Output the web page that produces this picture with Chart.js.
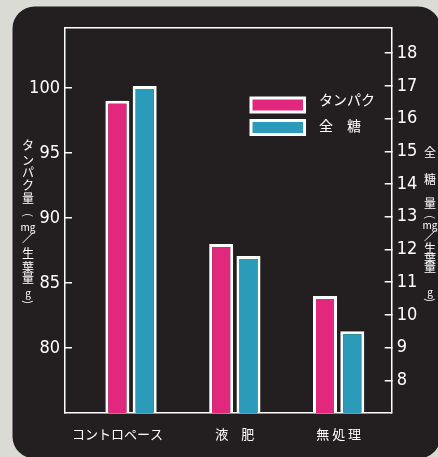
<!DOCTYPE html>
<html><head><meta charset="utf-8">
<script src="https://cdn.jsdelivr.net/npm/chart.js@4/dist/chart.umd.min.js"></script>
<style>html,body{margin:0;padding:0;background:#d9dbd4;overflow:hidden}canvas{display:block}</style>
</head><body>
<canvas id="c" width="438" height="457"></canvas>
<script>
const categories = ['コントロペース', '液　肥', '無 処 理'];
const seriesNames = ['タンパク', '全　糖'];
const tanpaku = [99, 88, 84];
const zentou = [17.0, 11.8, 9.5];
const leftTicks = [80, 85, 90, 95, 100];
const rightTicks = [8, 9, 10, 11, 12, 13, 14, 15, 16, 17, 18];
const leftTitle = ['タ','ン','パ','ク','量','(','mg','／','生','葉','量','g',')'];
const rightTitle = ['全','糖','量','(','mg','／','生','葉','量','g',')'];

const PINK = '#e1287d';
const TEAL = '#2b9bb9';
const WHITE = '#ffffff';
const PANEL = '#231f20';
const NUM_FONT = "'DejaVu Sans Condensed', 'Liberation Sans Narrow', sans-serif";
const JP_FONT = "'Noto Sans CJK JP', sans-serif";

const labelNudge = [-0.13, 0, 0];
const leftTitleY = [145,160,172,185,198,215,227,238,253,267,278,293,302];
const rightTitleY = [152,179,203,217,225,236,248,258,267,292,300];

function drawVertical(ctx, chars, ys, x) {
  chars.forEach((ch, i) => {
    ctx.save();
    ctx.translate(x, ys[i]);
    if (ch === '(' || ch === ')') {
      ctx.rotate(Math.PI / 2);
      ctx.font = '11px ' + JP_FONT;
    } else if (/^[a-z]+$/.test(ch)) {
      ctx.font = '10px ' + JP_FONT;
    } else {
      ctx.font = '12px ' + JP_FONT;
    }
    ctx.fillText(ch, 0, 0);
    ctx.restore();
  });
}

const decor = {
  id: 'decor',
  beforeDraw(chart) {
    const ctx = chart.ctx;
    ctx.save();
    ctx.fillStyle = PANEL;
    ctx.beginPath();
    ctx.roundRect(12.5, 6.5, 428, 452, 22);
    ctx.fill();
    ctx.restore();
  },
  afterDraw(chart) {
    const ctx = chart.ctx;
    ctx.save();
    ctx.fillStyle = WHITE;
    ctx.textAlign = 'center';
    ctx.textBaseline = 'middle';
    drawVertical(ctx, leftTitle, leftTitleY, 28);
    drawVertical(ctx, rightTitle, rightTitleY, 430);
    // legend
    const colors = [PINK, TEAL];
    const boxY = [96.5, 119];
    const textY = [99.5, 126];
    colors.forEach((col, i) => {
      ctx.fillStyle = WHITE;
      ctx.fillRect(249.5, boxY[i], 56.5, 17);
      ctx.fillStyle = col;
      ctx.fillRect(252.5, boxY[i] + 3, 50.5, 11);
      ctx.fillStyle = WHITE;
      ctx.font = '14px ' + JP_FONT;
      ctx.textAlign = 'left';
      ctx.fillText(seriesNames[i], 319, textY[i]);
    });
    ctx.restore();
  }
};

new Chart(document.getElementById('c'), {
  type: 'bar',
  data: {
    datasets: [
      {
        label: seriesNames[0],
        data: tanpaku.map((v, i) => ({ x: i, y: v })),
        yAxisID: 'y',
        backgroundColor: PINK,
        borderColor: WHITE,
        borderWidth: 3,
        categoryPercentage: 0.526,
        barPercentage: 0.88
      },
      {
        label: seriesNames[1],
        data: zentou.map((v, i) => ({ x: i, y: v })),
        yAxisID: 'y2',
        backgroundColor: TEAL,
        borderColor: WHITE,
        borderWidth: 3,
        categoryPercentage: 0.526,
        barPercentage: 0.88
      }
    ]
  },
  options: {
    responsive: false,
    animation: false,
    layout: { padding: { left: 0, right: 0, top: 28, bottom: 0 } },
    plugins: { legend: { display: false }, tooltip: { enabled: false } },
    scales: {
      x: {
        type: 'linear',
        position: 'bottom',
        offset: false,
        min: -0.636,
        max: 2.511,
        afterBuildTicks: s => { s.ticks = categories.map((c, i) => ({ value: i + labelNudge[i] })); },
        afterFit: s => { s.height = 44; },
        ticks: {
          color: WHITE,
          font: { family: JP_FONT, size: 13 },
          padding: 13,
          maxRotation: 0,
          autoSkip: false,
          callback: (v, idx) => categories[idx]
        },
        grid: { display: false, drawTicks: false, offset: false },
        border: { display: true, color: WHITE, width: 1.5 }
      },
      x2: {
        type: 'linear',
        position: 'top',
        offset: false,
        min: 0, max: 1,
        afterFit: s => { s.height = 0; },
        ticks: { display: false },
        grid: { display: false, drawTicks: false },
        border: { display: true, color: WHITE, width: 1.5 }
      },
      y: {
        type: 'linear',
        position: 'left',
        min: 75,
        max: 104.6,
        afterBuildTicks: s => { s.ticks = leftTicks.map(v => ({ value: v })); },
        afterFit: s => { s.width = 65; },
        ticks: {
          color: WHITE,
          font: { family: NUM_FONT, size: 18 },
          padding: 12
        },
        grid: { drawOnChartArea: false, color: WHITE, lineWidth: 1.5, tickLength: -7 },
        border: { display: true, color: WHITE, width: 1.5 }
      },
      y2: {
        type: 'linear',
        position: 'right',
        min: 7,
        max: 18.77,
        afterBuildTicks: s => { s.ticks = rightTicks.map(v => ({ value: v })); },
        afterFit: s => { s.width = 46.3; },
        ticks: {
          color: WHITE,
          font: { family: NUM_FONT, size: 18 },
          padding: 12
        },
        grid: { drawOnChartArea: false, color: WHITE, lineWidth: 1.5, tickLength: -7 },
        border: { display: true, color: WHITE, width: 1.5 }
      }
    }
  },
  plugins: [decor]
});
</script>
</body></html>
